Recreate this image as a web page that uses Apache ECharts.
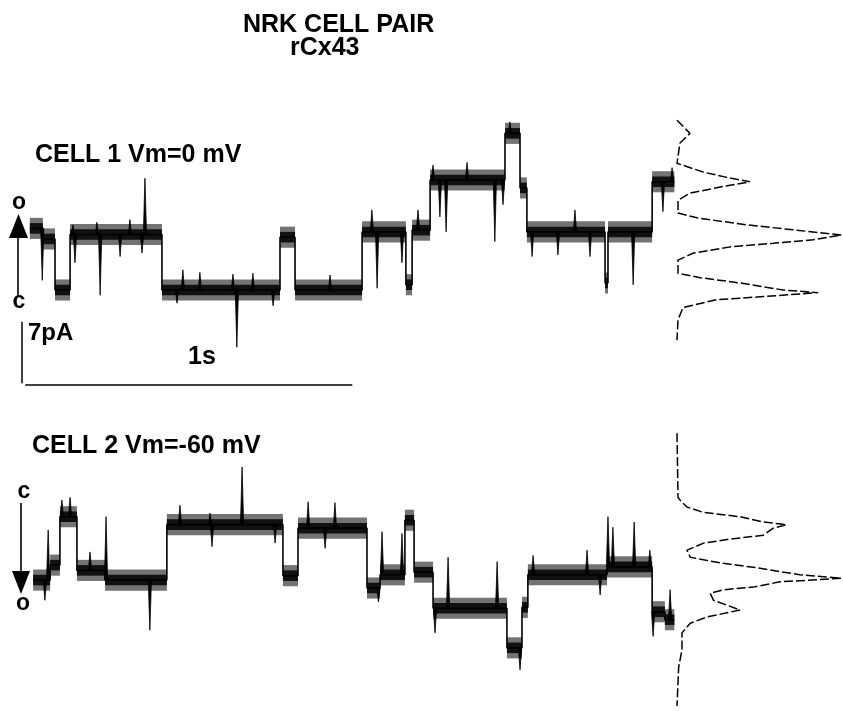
<!DOCTYPE html>
<html>
<head>
<meta charset="utf-8">
<script src="https://cdn.jsdelivr.net/npm/echarts@6/dist/echarts.min.js"></script>
<style>
html, body { margin: 0; padding: 0; background: #fff; }
#chart { width: 843px; height: 711px; }
</style>
</head>
<body>
<div id="chart"></div>
<script>
// ---- data (time in s, current in pA, closed level = 0) ----
// cell 1: level i runs from cell1Times[i] to cell1Times[i+1]
var cell1Times  = [0.024, 0.064, 0.101, 0.147, 0.428, 0.789, 0.835, 1.040, 1.174, 1.193, 1.248, 1.477, 1.523, 1.544, 1.783, 1.792, 1.927, 1.995];
var cell1Levels = [7.0, 5.8, 0.0, 6.3, 0.0, 6.0, 0.0, 6.6, 0.6, 6.8, 12.5, 17.8, 11.6, 6.6, 0.8, 6.6, 12.3];
var cell1Spikes = [
  [0.062, 1.1], [0.156, 7.4], [0.162, 3.1], [0.229, 7.7], [0.239, -0.6], [0.300, 3.8],
  [0.330, 8.0], [0.367, 4.2], [0.376, 12.7], [0.474, -1.5], [0.492, 2.3], [0.544, 2.0],
  [0.645, 1.8], [0.657, -6.5], [0.706, 1.9], [0.768, -1.8], [0.942, 1.7], [1.070, 9.1],
  [1.086, 0.2], [1.162, 3.1], [1.211, 9.1], [1.257, 14.2], [1.278, 8.3], [1.297, 6.6],
  [1.361, 14.5], [1.446, 5.5], [1.471, 9.7], [1.492, 19.1], [1.560, 3.8], [1.639, 4.0],
  [1.691, 9.1], [1.737, 3.8], [1.869, 0.6], [1.960, 8.9], [1.988, 13.9]
];

// cell 2 (inward current, openings go down)
var cell2Times  = [0.034, 0.086, 0.116, 0.168, 0.254, 0.443, 0.798, 0.844, 1.055, 1.095, 1.171, 1.199, 1.257, 1.483, 1.529, 1.547, 1.789, 1.927, 1.966, 1.995];
var cell2Levels = [-6.6, -4.9, 0.6, -5.5, -6.6, -0.3, -6.1, -0.7, -7.5, -6.0, 0.2, -5.7, -9.8, -14.3, -9.7, -6.0, -5.1, -10.2, -11.1];
var cell2Spikes = [
  [0.070, -8.9], [0.080, -0.9], [0.122, 2.5], [0.147, 2.8], [0.208, -3.4], [0.257, 0.6],
  [0.391, -12.3], [0.483, 1.9], [0.575, 1.0], [0.581, -2.8], [0.673, 6.25], [0.774, -2.4],
  [0.875, 2.3], [0.927, -3.0], [0.957, 2.2], [1.090, -9.1], [1.101, -1.1], [1.162, -1.3],
  [1.263, -12.6], [1.303, -4.0], [1.453, -4.5], [1.523, -16.8], [1.563, -3.8], [1.728, -3.2],
  [1.768, -8.3], [1.792, 0.6], [1.807, -0.6], [1.872, 0.0], [1.920, -3.2], [1.930, -13.0],
  [1.982, -7.7]
];

// all-points amplitude histograms (relative counts)
var hist1Current = [19.3, 17.8, 16.7, 14.4, 13.4, 12.8, 12.3, 11.7, 11.0, 10.2, 8.75, 8.2, 7.4, 6.8, 6.25, 5.7, 5.3, 4.9, 4.2, 3.4, 1.9, 1.4, 0.8, 0.0, -0.3, -0.8, -1.1, -2.0, -3.4, -5.7];
var hist1Count   = [0, 7.8, 1.8, 0, 15.7, 30, 44, 26, 7.8, 0.6, 0.6, 12, 42, 72, 99, 82, 58, 32, 10, 0.6, 0.6, 14, 38, 64, 85, 48, 24, 3.6, 0.6, 0];
var hist2Current = [10.1, 2.8, 2.5, 1.7, 1.1, 0.6, 0.0, -0.3, -0.7, -1.5, -2.0, -2.4, -3.2, -4.0, -4.3, -4.7, -5.2, -6.0, -6.4, -6.8, -7.4, -7.7, -8.1, -8.9, -10.0, -10.8, -11.5, -12.6, -14.5, -16.5, -20.9];
var hist2Count   = [0, 0.6, 1.8, 6, 15.7, 38, 52, 66, 58, 52, 30, 16, 6, 8, 16, 28, 48, 74, 99, 62, 46, 28, 20, 22, 38, 18, 8, 3, 3, 1, 0];

// scale bars
var scaleCurrent = 7;   // pA
var scaleTime = 1;      // s

// ---- helpers ----
var CORE = 0.6;   // half thickness of the dense noise core, pA
var FUZZ = 1.2;   // half thickness of the lighter noise fringe, pA
var FONT = '"Liberation Sans", Arial, Helvetica, sans-serif';

function stepLine(times, levels) {
  var pts = [];
  for (var i = 0; i < levels.length; i++) {
    pts.push([times[i], levels[i]]);
    pts.push([times[i + 1], levels[i]]);
  }
  return pts;
}
function levelAt(times, levels, t) {
  for (var i = 0; i < levels.length; i++) {
    if (t >= times[i] && t <= times[i + 1]) return levels[i];
  }
  return levels[levels.length - 1];
}
function bands(times, levels) {
  return levels.map(function (v, i) { return [times[i], times[i + 1], v]; });
}
function spikes(times, levels, list) {
  return list.map(function (s) { return [s[0], levelAt(times, levels, s[0]), s[1]]; });
}
function pairs(xs, ys) {
  return xs.map(function (x, i) { return [x, ys[i]]; });
}

function bandRenderer(half, fill, opacity) {
  return function (params, api) {
    var a = api.coord([api.value(0), api.value(2) + half]);
    var b = api.coord([api.value(1), api.value(2) - half]);
    return {
      type: 'rect',
      shape: { x: a[0], y: a[1], width: b[0] - a[0], height: b[1] - a[1] },
      style: { fill: fill, opacity: opacity }
    };
  };
}
function renderSpike(params, api) {
  var a = api.coord([api.value(0), api.value(1)]);
  var b = api.coord([api.value(0), api.value(2)]);
  return {
    type: 'polygon',
    shape: { points: [[a[0] - 1.6, a[1]], [a[0] + 1.6, a[1]], [b[0], b[1]]] },
    style: { fill: '#000', stroke: '#000', lineWidth: 0.8 }
  };
}

function traceSeries(idx, times, levels, list) {
  return [
    { type: 'custom', xAxisIndex: idx, yAxisIndex: idx, renderItem: bandRenderer(FUZZ, '#000', 0.55),
      encode: { x: [0, 1], y: 2 }, data: bands(times, levels), z: 1, silent: true },
    { type: 'custom', xAxisIndex: idx, yAxisIndex: idx, renderItem: bandRenderer(CORE, '#111', 1),
      encode: { x: [0, 1], y: 2 }, data: bands(times, levels), z: 2, silent: true },
    { type: 'line', xAxisIndex: idx, yAxisIndex: idx, data: stepLine(times, levels),
      showSymbol: false, lineStyle: { color: '#000', width: 1.6 }, z: 3, silent: true },
    { type: 'custom', xAxisIndex: idx, yAxisIndex: idx, renderItem: renderSpike,
      encode: { x: 0, y: [1, 2] }, data: spikes(times, levels, list), z: 4, silent: true }
  ];
}
function histSeries(idx, counts, currents) {
  return { type: 'line', xAxisIndex: idx, yAxisIndex: idx, data: pairs(counts, currents),
    showSymbol: false, lineStyle: { color: '#000', width: 1.5, type: [9, 3] }, silent: true };
}

var chart = echarts.init(document.getElementById('chart'));

var series = []
  .concat(traceSeries(0, cell1Times, cell1Levels, cell1Spikes))
  .concat(traceSeries(1, cell2Times, cell2Levels, cell2Spikes));
series.push(histSeries(2, hist1Count, hist1Current));
series.push(histSeries(3, hist2Count, hist2Current));
// scale bars live in the cell 1 panel
series.push({ type: 'line', xAxisIndex: 0, yAxisIndex: 0, showSymbol: false, silent: true,
  lineStyle: { color: '#000', width: 1.5 },
  data: [[0, -10.6], [0, -10.6 + scaleCurrent]] });
series.push({ type: 'line', xAxisIndex: 0, yAxisIndex: 0, showSymbol: false, silent: true,
  lineStyle: { color: '#000', width: 1.5 },
  data: [[0.01, -10.8], [0.01 + scaleTime, -10.8]] });

function txt(text, x, y, size, align) {
  return { type: 'text', silent: true, z: 10,
    style: { text: text, x: x, y: y, fill: '#000', font: 'bold ' + size + 'px ' + FONT,
      textAlign: align || 'left', textVerticalAlign: 'middle' } };
}

var option = {
  animation: false,
  backgroundColor: '#fff',
  grid: [
    { left: 22, top: 114, width: 654, height: 290.4 },
    { left: 22, top: 416.4, width: 654, height: 290.4 },
    { left: 677, top: 114, width: 166, height: 290.4 },
    { left: 677, top: 416.4, width: 166, height: 290.4 }
  ],
  xAxis: [
    { gridIndex: 0, type: 'value', min: 0, max: 2, show: false },
    { gridIndex: 1, type: 'value', min: 0, max: 2, show: false },
    { gridIndex: 2, type: 'value', min: 0, max: 100, show: false },
    { gridIndex: 3, type: 'value', min: 0, max: 100, show: false }
  ],
  yAxis: [
    { gridIndex: 0, type: 'value', min: -13, max: 20, show: false },
    { gridIndex: 1, type: 'value', min: -21, max: 12, show: false },
    { gridIndex: 2, type: 'value', min: -13, max: 20, show: false },
    { gridIndex: 3, type: 'value', min: -21, max: 12, show: false }
  ],
  series: series,
  graphic: [
    txt('NRK CELL PAIR', 243, 25, 25),
    txt('rCx43', 290, 48, 25),
    txt('CELL 1 Vm=0 mV', 35, 155, 25),
    txt('CELL 2 Vm=-60 mV', 32, 446, 25),
    txt('o', 19, 203, 23, 'center'),
    txt('c', 19, 302, 23, 'center'),
    txt('c', 24, 492, 23, 'center'),
    txt('o', 23, 604, 23, 'center'),
    txt('7pA', 28, 333, 24),
    txt('1s', 202, 357, 25, 'center'),
    // open/closed arrows
    { type: 'line', silent: true, shape: { x1: 18, y1: 297, x2: 18, y2: 232 }, style: { stroke: '#000', lineWidth: 1.6 } },
    { type: 'polygon', silent: true, shape: { points: [[9, 238], [28, 238], [18.5, 214]] }, style: { fill: '#000' } },
    { type: 'line', silent: true, shape: { x1: 21, y1: 503, x2: 21, y2: 577 }, style: { stroke: '#000', lineWidth: 1.6 } },
    { type: 'polygon', silent: true, shape: { points: [[12, 571], [30, 571], [21, 594]] }, style: { fill: '#000' } }
  ]
};

chart.setOption(option);
window.addEventListener('resize', chart.resize);
</script>
</body>
</html>
